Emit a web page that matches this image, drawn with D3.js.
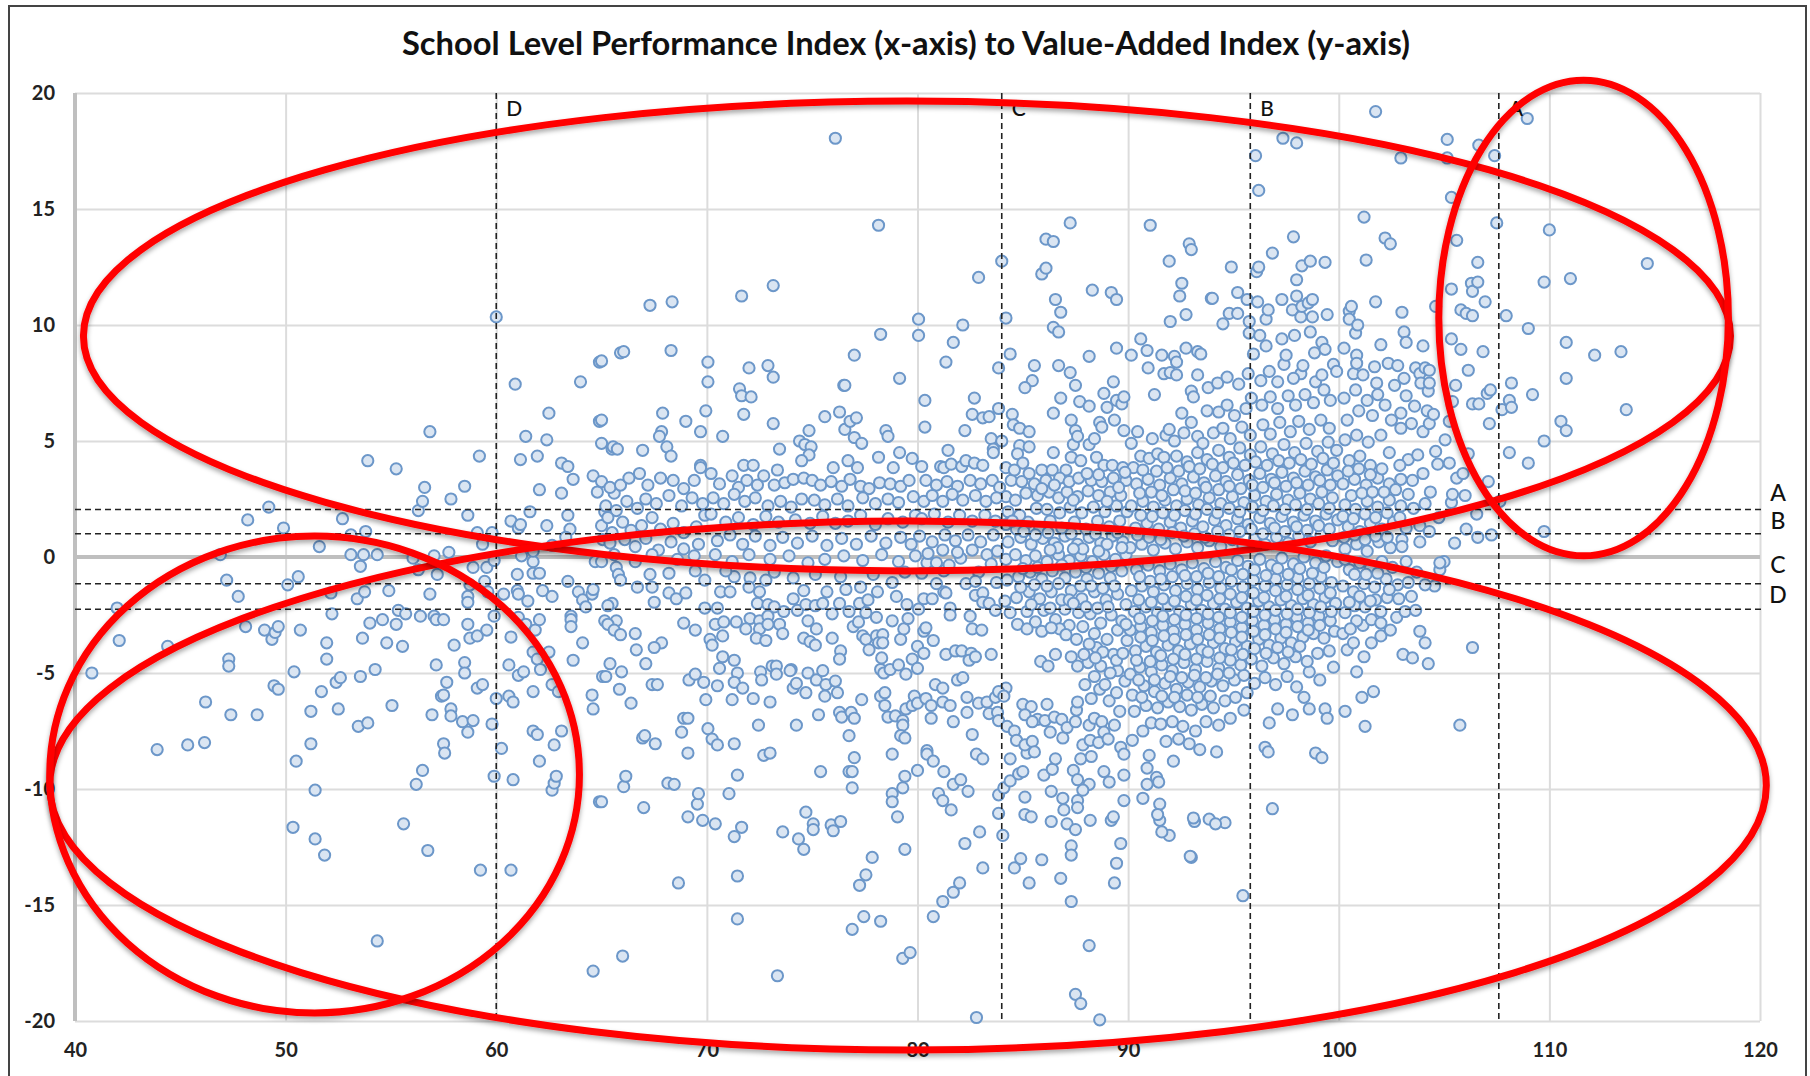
<!DOCTYPE html>
<html>
<head>
<meta charset="utf-8">
<title>School Level Performance Index</title>
<script src="https://cdn.jsdelivr.net/npm/d3@7"></script>
<style>
  body { margin: 0; background: #fff; }
  text { font-family: Lato, "Open Sans", sans-serif; }
  .tick-label text { font-size: 20px; font-weight: 700; fill: #222; font-family: Lato, sans-serif; }
  .grid line { stroke: #dcdcdc; stroke-width: 2; }
  .grid .domain { display: none; }
</style>
</head>
<body>
<div id="chart"></div>
<script>
// Axis ticks and grade cut-offs
const xTicks = [40, 50, 60, 70, 80, 90, 100, 110, 120];
const yTicks = [-20, -15, -10, -5, 0, 5, 10, 15, 20];
const gradeX = [['D', 60], ['C', 84], ['B', 95.8], ['A', 107.6]];
const gradeY = [['A', 2.05, 2.7], ['B', 1.0, 1.5], ['C', -1.15, -0.4], ['D', -2.25, -1.7]];

// Hand drawn circles: xMin, xMax, yMax, yMin in chart units
const circleTop = [40.4, 118.6, 19.65, -0.6];
const circleBottom = [38.8, 120.3, 1.55, -21.25];
const circleLeft = [38.8, 63.95, 0.9, -19.65];
const circleRight = [104.75, 118.5, 20.55, 0.05];

// Schools as [performance index, value-added index]
const schools40s = [[40.8,-5],[42,-2.2],[42.1,-3.6],[43.9,-8.3],[44.4,-3.85],[45.35,-8.1],[46.15,-8],[46.2,-6.25],[46.9,.1],[47.2,-1],[47.3,-4.4],[47.3,-4.7],[47.4,-6.8],[47.75,-1.7],[48.1,-3],[48.65,-6.8],[49,-3.15],[49.35,-3.55],[49.5,-3.25],[49.65,-3],[49.45,-5.55],[49.65,-5.7],[48.2,1.6],[49.2,2.15],[49.9,1.25]];
const schools50s = [[50.1,-1.2],[50.4,-4.95],[50.6,-.85],[50.7,-3.15],[50.5,-8.8],[50.35,-11.65],[51.2,-6.65],[51.2,-8.05],[51.4,-10.05],[51.4,-12.15],[51.7,-5.8],[51.85,-12.85],[51.6,.45],[51.95,-3.7],[51.95,-4.4],[52.15,-1.55],[52.2,-2.45],[52.4,-5.4],[52.5,-6.55],[52.6,-5.2],[52.7,1.65],[53.1,.1],[53.1,.95],[53.4,-1.8],[53.45,-7.3],[53.55,-5.15],[53.65,-3.5],[53.7,.1],[53.55,-.4],[53.75,-1.5],[53.8,1.1],[53.9,4.15],[53.9,-7.15],[54,-2.85],[54.25,-4.85],[54.35,.1],[54.35,-16.55],[54.6,-2.7],[54.8,-3.7],[54.9,-1.45],[55.05,-6.4],[55.25,-2.9],[55.25,3.8],[55.35,-2.3],[55.55,-3.85],[55.7,-2.45],[55.6,-11.5],[56.05,-.05],[56.3,-.55],[56.3,2],[56.2,-9.8],[56.4,-2.55],[56.5,-9.2],[56.5,2.4],[56.6,3],[56.75,-12.65],[56.85,-1.6],[56.85,5.4],[56.95,-6.8],[57.05,.05],[57.05,-2.55],[57.15,-2.7],[57.15,-4.65],[57.2,-.75],[57.4,-6],[57.5,-2.7],[57.5,-5.95],[57.5,-8.05],[57.55,-8.45],[57.65,-5.4],[57.75,.2],[57.85,-6.55],[57.85,-6.85],[57.85,2.5],[58,-3.8],[58.4,-7.1],[58.5,-4.55],[58.5,-5],[58.5,3.05],[58.65,-7.55],[58.65,-2.9],[58.65,-1.7],[58.65,-1.95],[58.65,1.8],[58.75,-1.2],[58.75,-3.5],[58.9,-.45],[58.9,-7.05],[59.1,-3.4],[59.1,-5.65],[59.1,1.05],[59.2,4.35],[59.35,.55],[59.35,-5.5],[59.25,-13.5],[59.45,-1.05],[59.55,-.45],[59.55,-3.15],[59.6,-1.5],[59.8,-7.2],[59.8,1.05],[59.9,-9.45],[59.9,-2.55],[59.9,-.15]];
const schools60s = [[60,-6.1],[60,10.35],[60.25,-8.25],[60.35,-1.6],[60.6,-6],[60.6,-4.65],[60.7,-3.45],[60.7,-13.5],[60.7,1.55],[60.8,-6.25],[60.8,-9.6],[60.9,7.45],[61,-.75],[61,-1.45],[61.05,-1.6],[61.05,-5.1],[61.05,-2.6],[61.05,1.25],[61.15,4.2],[61.15,1.4],[61.3,-4.95],[61.2,.05],[61.4,-2.9],[61.4,5.2],[61.5,-1.9],[61.6,1.95],[61.75,-.2],[61.75,-.7],[61.75,-4.1],[61.75,-5.8],[61.75,-7.5],[61.75,.25],[61.85,-3.15],[61.95,-4.4],[61.95,-7.65],[61.95,4.35],[62.05,-.7],[62.05,-2.7],[62.05,-8.8],[62.05,2.9],[62.1,-4.85],[62.2,-1.45],[62.4,5.05],[62.4,1.35],[62.5,6.2],[62.5,-4.1],[62.65,-1.7],[62.65,-5.5],[62.65,-10.05],[62.65,.5],[62.75,-8.1],[62.75,-9.75],[62.85,-9.45],[62.95,-5.8],[63.1,-7.5],[63.1,4.05],[63.1,2.75],[63.4,-1.05],[63.4,3.9],[63.4,1.8],[63.5,1.2],[63.3,.85],[63.55,-2.55],[63.55,-2.7],[63.55,-3],[63.65,-4.45],[63.65,3.35],[63.9,-1.5],[64,7.55],[64.1,-1.85],[64.1,-3.7],[64.25,-2.15],[64.55,-5.95],[64.55,-1.6],[64.6,-1.4],[64.6,-6.55],[64.6,-17.85],[64.6,3.5],[64.7,-.2],[64.8,2.8],[64.9,-10.55],[64.9,8.4],[64.9,5.85],[65,3.25],[65,4.9],[65,1.35],[65.05,-5.15],[65.15,1.95],[65.05,.75],[65.5,4.65],[65.6,2.75],[65.5,1.05],[65.9,8.8],[65,8.45],[65,5.9],[65,-10.55],[65.55,4.75],[65.75,4.65],[66.05,8.85],[66.05,-9.9],[66,-17.2],[66.15,-9.45],[66.95,4.6],[67,-10.8],[67.3,10.85],[67.85,5.4],[67.75,5.2],[67.9,6.2],[68.1,4.75],[68.3,4.35],[68.35,11],[68.3,8.9],[68.15,-9.75],[68.45,-9.8],[68.65,-14.05],[69.1,-11.2],[69,5.85],[69.1,-8.45],[69.55,-10.65],[69.6,-10.2],[69.8,-11.35],[69.95,6.3],[69.7,5.4],[69.7,3.95],[69.7,3.85],[65,-.2],[65.7,-.45],[65.8,-.75],[65.9,-1],[67.3,-.75],[66.7,-1.3],[67.4,-1.3],[68.2,-.7],[69.45,-.6],[69.9,-1],[68.2,-1.55],[68.55,-1.8],[69,-1.55],[67.5,-1.95],[65.5,-2],[65.3,-2.1],[65.15,-2.75],[65.7,-2.75],[65.3,-2.9],[65.6,-3.15],[65.9,-3.35],[66.6,-3.3],[67.85,-3.7],[67.5,-3.9],[66.65,-4],[67.1,-4.6],[65.4,-4.6],[65.95,-4.95],[65.2,-5.15],[67.4,-5.5],[67.65,-5.5],[65.85,-5.7],[68.9,-2.85],[69.45,-3.15],[69.9,-2.2],[67.55,-8.05],[66.95,-7.8],[67.05,-7.7],[68.8,-7.55],[66.4,-6.3],[68.9,-6.95],[69.1,-6.95],[69.95,-6.15],[69.15,-5.3],[69.85,-5.4],[69.45,-5.05],[65.4,3],[65.9,3.1],[66.3,3.4],[66.8,3.6],[67.2,3.1],[67.8,3.4],[68.4,3.3],[68.9,2.95],[69.4,3.3],[65.2,2.2],[65.7,2],[66.2,2.4],[66.7,2.1],[67.1,2.5],[67.6,2.3],[68.2,2.65],[68.8,2.2],[69.3,2.55],[69.8,2.3],[65.3,1.7],[66,1.5],[66.4,1.15],[66.9,1.35],[67.4,1.7],[67.8,1.2],[68.4,1.45],[68.9,1.05],[69.5,1.3],[65.4,.6],[66.1,.75],[66.6,.45],[67.1,.8],[67.7,.3],[68.3,.65],[68.9,.35],[69.6,.55],[69.9,1.8],[65.6,.1],[66.6,-.2],[67.4,.1],[68.6,-.1],[69.4,.05]];
const schools70s = [[70.05,8.4],[70.05,7.55],[70.75,5.2],[71.55,7.25],[71.65,6.95],[71.65,11.25],[71.75,6.15],[71.75,3.95],[72.2,3.95],[72.1,6.9],[72,8.15],[72.9,8.25],[73.15,7.75],[73.15,11.7],[73.15,5.75],[73.35,3.75],[73.45,4.65],[74.4,5],[74.65,4.85],[74.95,4.75],[74.85,4.4],[74.85,5.45],[74.5,4.15],[75.6,6.05],[76,3.85],[76.1,18.05],[76.3,6.25],[76.5,7.4],[76.55,7.4],[76.55,5.5],[76.8,5.85],[77.1,6],[76.7,4.15],[77,5.15],[77.35,4.9],[77,8.7],[77.15,3.85],[78.15,14.3],[78.25,9.6],[78.5,5.45],[78.6,5.2],[78.15,4.3],[78.85,3.85],[79.15,7.7],[79.15,4.5],[79.75,4.25],[70.15,-3.55],[70.25,-3.8],[70.75,-3.4],[70.4,-2.9],[70.8,-2.8],[71.4,-2.8],[70.5,-2.2],[70.65,-1.5],[71.1,-1.5],[71.3,-.85],[72.05,-.9],[72,-1.3],[72.5,-1.5],[72.8,-1],[74.1,-.9],[75.15,-.75],[76.35,-.85],[74.1,-1.8],[74.6,-1.45],[75.7,-1.5],[76.6,-1.4],[77.3,-1.3],[72.4,-2],[72.9,-2.05],[73.2,-2.15],[73.65,-2.35],[74.3,-2.3],[74.7,-2.05],[75.15,-2.1],[75.5,-2],[75.95,-2.45],[76.3,-2],[76.75,-2.35],[77.25,-2],[77.55,-2.4],[77.65,-1.85],[72.05,-2.65],[71.85,-3.1],[72.5,-2.75],[72.9,-2.55],[72.5,-3.1],[72.9,-2.9],[73.45,-2.9],[73.6,-3.3],[72.35,-3.5],[72.8,-3.6],[74.6,-3.5],[74.9,-3.65],[75.15,-3.8],[74.8,-2.75],[75.2,-3.1],[75.95,-3.5],[76.35,-4.05],[76.3,-4.4],[76.95,-3],[77.2,-2.8],[77.4,-3.4],[77.55,-3.55],[77.7,-4],[78.05,-3.4],[78.35,-3.35],[78.05,-2.6],[78.8,-2.75],[78.15,-3.7],[78.35,-3.7],[79.2,-3.55],[79.35,-3.1],[79.55,-2.65],[79.75,-4.4],[79.45,-5.05],[78.3,-4.35],[78.25,-4.85],[78.4,-5],[78.7,-4.85],[79.1,-4.65],[70.75,-4.3],[71.3,-4.45],[70.6,-4.8],[71.45,-5],[71.3,-5.4],[71.7,-5.65],[70.5,-5.55],[72.55,-4.95],[72.6,-5.3],[73.1,-4.7],[73.3,-4.7],[73.3,-5.05],[74,-4.85],[73.95,-4.9],[74.8,-5],[75.2,-5.3],[75.5,-4.9],[75.65,-5.5],[76.1,-5.35],[74.1,-5.65],[74.25,-5.45],[74.7,-5.85],[75.6,-6],[76.2,-5.85],[71.2,-6.15],[72.2,-6.1],[73,-6.25],[75.3,-6.8],[76.3,-6.7],[76.4,-6.9],[76.85,-6.7],[77,-6.95],[77.35,-6.15],[78.25,-6],[78.45,-5.85],[78.45,-6.4],[78.6,-6.9],[78.95,-6.85],[79.3,-7.05],[79.3,-7.25],[79.45,-6.55],[79.75,-6.4],[79.85,-6],[72.45,-7.25],[74.25,-7.25],[76.75,-7.7],[79.2,-7.7],[79.4,-7.8],[70.05,-7.4],[70.25,-7.85],[70.5,-8.1],[71.3,-8.05],[72.7,-8.55],[73,-8.45],[77,-8.65],[78.8,-8.5],[71.45,-9.4],[75.4,-9.25],[76.75,-9.25],[76.9,-9.25],[76.9,-9.95],[78.8,-10.2],[78.8,-10.55],[79.3,-9.95],[79.4,-9.45],[71.05,-10.2],[70.4,-11.5],[71.65,-11.65],[71.3,-12.05],[73.6,-11.85],[74.35,-12.15],[74.6,-12.6],[74.7,-11],[75.05,-11.5],[75.05,-11.75],[75.9,-11.55],[76,-11.8],[76.35,-11.4],[79.05,-11.2],[77.85,-12.95],[77.55,-13.7],[77.25,-14.15],[79.4,-12.6],[71.45,-13.75],[71.45,-15.6],[73.35,-18.05],[76.9,-16.05],[77.45,-15.5],[78.25,-15.7],[79.3,-17.3],[79.65,-17.05],[70.2,3.6],[70.6,3.15],[71.2,3.5],[71.5,3],[71.9,3.3],[72.4,3.1],[72.7,3.5],[73.2,3.1],[73.7,3.2],[74.1,3.35],[74.6,3.4],[75,3.3],[75.4,3.1],[75.9,3.25],[76.4,3.05],[76.8,3.35],[77.3,3.05],[77.7,2.95],[78.2,3.2],[78.7,3.15],[79.2,3.05],[79.6,3.3],[70.3,2.55],[70.8,2.3],[71.3,2.7],[71.8,2.4],[72.3,2.55],[72.9,2.2],[73.5,2.4],[74,2.15],[74.5,2.5],[75.1,2.45],[75.6,2.25],[76.2,2.5],[76.7,2.2],[77.4,2.55],[78,2.3],[78.6,2.5],[79.1,2.35],[79.8,2.6],[70.2,1.85],[70.9,1.5],[71.5,1.7],[72.2,1.4],[72.8,1.75],[73.4,1.5],[74.2,1.6],[74.9,1.45],[75.5,1.75],[76.1,1.45],[76.7,1.55],[77.3,1.8],[78,1.4],[78.6,1.65],[79.3,1.5],[79.9,1.8],[70.5,.7],[71.1,.95],[71.7,.55],[72.3,.9],[73,.5],[73.6,.85],[74.3,.6],[75,.9],[75.7,.5],[76.4,.8],[77.1,.55],[77.8,.9],[78.5,.6],[79.2,.85],[79.7,.55],[70.4,.1],[71.2,-.2],[72,.1],[73,-.1],[73.9,.05],[74.8,-.25],[75.6,-.1],[76.5,.05],[77.4,-.15],[78.3,.1],[79.1,-.2],[79.9,.05],[70.9,-.6],[73.2,-.65],[77.9,-.75],[78.8,-1.1],[79.4,-.65],[78.1,-1.5],[79,-1.7],[79.5,-2.05]];
const schools80s = [[80.05,10.25],[80.05,9.55],[80.35,6.75],[80.35,5.6],[80.2,3.9],[81.1,3.9],[81.25,3.85],[81.35,8.4],[81.45,4.6],[81.6,4],[81.7,9.25],[82.1,3.9],[82.15,10],[82.25,5.45],[82.3,4.15],[82.6,6.15],[82.7,6.85],[82.7,4.05],[82.9,12.05],[83.1,6],[83.1,3.95],[83.4,6.05],[83.5,5.1],[83.6,4.65],[83.6,4.5],[83.85,8.15],[83.85,6.4],[84,12.75],[84,5],[84.2,10.3],[84.2,3.85],[84.4,8.75],[84.5,6.15],[84.55,5.7],[84.85,5.55],[84.85,4.8],[84.75,4.45],[85,4.05],[85.3,5.4],[85.3,4.75],[85.45,7.6],[85.1,7.3],[85.55,8.25],[85.9,12.2],[85.9,3.75],[86.1,13.7],[86.1,12.45],[86.4,3.75],[86.45,13.6],[86.45,9.9],[86.45,6.2],[86.45,4.5],[86.55,11.1],[86.7,9.7],[86.7,8.25],[86.8,10.55],[86.8,6.85],[87.05,3.75],[87.25,14.4],[87.25,7.95],[87.3,5.9],[87.3,4.3],[87.4,4.85],[87.5,7.4],[87.5,5.45],[87.6,5.2],[87.75,4.15],[87.7,6.7],[88.15,8.65],[88.15,6.5],[88.15,4.85],[88.3,11.5],[88.4,5.1],[88.5,4.3],[88.65,5.8],[88.75,5.6],[88.85,7.05],[88.85,3.95],[89,6.45],[89.2,11.4],[89.3,7.55],[89.25,3.95],[89.35,5.9],[89.45,11.1],[89.45,9],[89.45,6.75],[89.7,6.6],[89.75,3.85],[89.8,6.9],[89.8,5.45],[80.3,-1.8],[80.7,-1.8],[81.25,-1.5],[81.35,-1.55],[82.3,-1.15],[80.9,-1.15],[80.2,-.7],[81.25,-.6],[80.45,-.25],[80.9,-.25],[81.5,-.35],[82.05,-.05],[81.55,-2.2],[81.55,-2.5],[82.5,-2.55],[82.75,-1.65],[83.1,-1.55],[83.1,-1.95],[83.4,-2],[83.7,-2.3],[82.6,-3.1],[83.05,-3.15],[80.05,-2.25],[80.3,-3.2],[80.4,-3.05],[80.75,-3.6],[80,-3.85],[80.3,-4.15],[80,-4.8],[81.35,-4.2],[81.8,-4.05],[82.1,-4.05],[82.55,-4.15],[82.45,-4.45],[82.75,-4.3],[83.5,-4.2],[80.85,-5.5],[81.2,-5.65],[81.9,-5.3],[82.15,-5.2],[80,-6.3],[80.4,-6.1],[80.65,-6.4],[80.65,-6.95],[81.2,-6.25],[81.55,-6.4],[81.7,-7.1],[82.35,-6.05],[82.35,-6.7],[82.9,-6.3],[83.3,-6.25],[83.4,-6.75],[83.7,-6.05],[83.8,-6.7],[83.85,-7.05],[84.2,-5.65],[83.85,-5.8],[84.1,-6],[84.25,-7.3],[84.6,-7.5],[84.7,-7.9],[85.2,-8.45],[85.1,-8.1],[85.45,-7.95],[85.55,-8.4],[82.6,-7.65],[82.8,-8.5],[83.1,-8.7],[80.45,-8.35],[80.45,-8.5],[80.75,-8.8],[84.4,-8.7],[80,-9.2],[81.25,-9.25],[81.7,-9.8],[82.05,-9.6],[82.4,-10.1],[81,-10.2],[81.2,-10.5],[81.6,-10.9],[83.85,-10.25],[84.1,-9.95],[84.4,-9.65],[84.8,-9.35],[85,-9.25],[85.1,-10.35],[85.1,-11.1],[85.4,-11.2],[86,-9.4],[86.4,-9.15],[86.55,-8.7],[86.35,-10.1],[86.35,-11.4],[86.9,-10.4],[86.95,-10.9],[87.6,-10.5],[87.6,-10.8],[87.1,-11.5],[87.5,-11.75],[88.2,-11.35],[89.2,-11.35],[89.3,-11.2],[89.8,-10.5],[87.4,-9.2],[87.6,-9.6],[88.15,-9.8],[87.85,-10.05],[88.85,-9.25],[89.1,-9.7],[89.8,-9.4],[89.65,-8.2],[89.8,-8.5],[83.85,-11.05],[84.05,-12],[82.25,-12.35],[82.95,-11.85],[83.1,-13.4],[80.75,-15.5],[81.2,-14.85],[81.7,-14.45],[82,-14.05],[82.8,-19.85],[84.6,-13.4],[84.9,-13],[85.9,-13.05],[85.3,-14.05],[86.8,-13.85],[87.3,-14.85],[87.3,-12.45],[87.3,-12.85],[88.15,-16.75],[87.5,-18.85],[87.75,-19.25],[88.65,-19.95],[89.35,-14.05],[89.45,-13.2],[89.65,-12.35],[85,-6.35],[85.4,-6.45],[85.1,-6.8],[85.7,-7],[85.45,-7.1],[86.15,-6.35],[86.3,-7.55],[86.05,-7.05],[86.5,-6.9],[86.85,-7],[86.9,-7.8],[87.1,-7.35],[87.5,-7.1],[87.55,-6.6],[87.6,-6.25],[87.85,-8.1],[88.2,-7.9],[88.15,-7.25],[87.75,-8.7],[88.25,-8.6],[88.4,-6.95],[88.75,-7.1],[88.85,-7.55],[88.6,-8],[89.05,-7.85],[89.35,-7.25],[89.6,-6.65],[89.1,-6.2],[89.45,-5.85],[88.65,-5.7],[88.25,-6.1],[87.95,-5.5],[88.4,-5.15],[88.9,-5.5],[89.85,-5.35],[89.5,-4.9],[88.1,-4.55],[87.9,-4.2],[87.55,-3.55],[87.85,-3],[88.4,-3.3],[88.5,-3.9],[89,-3.55],[89.3,-4.2],[89.5,-3.15],[89.95,-3.6],[89.7,-2.75],[89.2,-2.5],[88.7,-2.85],[88.2,-2.45],[87.65,-2.4],[87.2,-2.95],[87,-2.25],[86.55,-2.7],[86,-2.3],[85.6,-2.8],[85.2,-2.35],[84.75,-2.9],[84.4,-2.4],[84.15,-1.9],[84.7,-1.75],[85.3,-1.5],[85.8,-1.8],[86.35,-1.5],[86.85,-1.85],[87.3,-1.45],[87.8,-1.8],[88.4,-1.5],[88.95,-1.85],[89.5,-1.6],[89.9,-2.05],[84.25,-1],[84.8,-.85],[85.35,-.65],[85.9,-.95],[86.4,-.6],[87,-.9],[87.5,-.65],[88.05,-.95],[88.6,-.7],[89.15,-.9],[89.7,-.6],[84.2,-.1],[84.65,.1],[85.15,-.15],[85.6,.05],[86.15,-.2],[86.7,.1],[87.2,-.15],[87.75,.05],[88.3,-.2],[88.85,.1],[89.4,-.1],[89.9,.1],[84.3,.65],[84.9,.85],[85.4,.55],[85.95,.8],[86.5,.6],[87,.9],[87.6,.55],[88.15,.85],[88.7,.6],[89.25,.9],[89.75,.65],[84.2,1.4],[84.7,1.2],[85.25,1.5],[85.8,1.25],[86.3,1.55],[86.85,1.25],[87.45,1.5],[88,1.2],[88.55,1.55],[89.1,1.3],[89.6,1.55],[84.3,1.95],[84.85,1.8],[85.65,2.1],[86.15,2.05],[86.75,1.9],[87.25,2.15],[87.8,1.9],[88.35,2.15],[88.9,1.95],[89.45,2.2],[89.95,1.95],[84.2,2.6],[84.65,2.45],[85.15,2.75],[85.7,2.65],[86.25,2.8],[86.7,2.55],[87.1,2.8],[87.6,2.6],[88.1,2.85],[88.6,2.65],[89.15,2.8],[89.65,2.65],[84.45,3.3],[84.95,3.25],[85.55,3.15],[86.1,3.3],[86.75,3.4],[87.2,3.25],[87.65,3.4],[88.25,3.3],[88.75,3.25],[89.3,3.4],[89.9,3.3],[80.4,3.3],[80.9,3.1],[81.4,3.25],[81.9,3.05],[82.5,3.3],[83,3.15],[83.55,3.3],[83.9,3],[80.3,2.4],[80.7,2.65],[81.2,2.4],[81.65,2.7],[82.15,2.45],[82.75,2.65],[83.25,2.4],[83.75,2.55],[80.2,1.65],[80.8,1.85],[81.45,1.5],[82,1.8],[82.6,1.55],[83.2,1.8],[83.7,1.55],[80.1,.9],[80.7,.65],[81.3,.95],[81.8,.7],[82.4,.95],[83,.65],[83.6,.95],[80.5,.15],[81.2,.3],[81.9,.2],[82.6,.3],[83.3,.1],[83.8,.25],[82.9,-.65],[83.5,-.3],[83.75,-1.1],[82.75,-1.05]];
const schools90s = [[90.15,8.7],[90.15,4.9],[90.25,3.85],[90.45,5.4],[90.6,9.4],[90.6,4.35],[90.9,8.9],[90.95,8.15],[91.05,14.3],[91,4.25],[91.15,5.1],[91.25,7],[91.4,4.45],[91.6,8.7],[91.7,7.9],[91.7,4.3],[91.8,5.25],[91.95,12.75],[91.95,5.5],[92,10.15],[92,7.95],[92.2,8.65],[92.3,8.4],[92.3,7.85],[92.45,11.25],[92.55,11.8],[92.55,6.2],[92.75,10.45],[92.75,9],[92.9,13.5],[93,13.25],[93,7.15],[93.1,6.9],[93,5.8],[93.3,8.85],[93.45,8.75],[93.3,7.85],[93.75,6.3],[93.8,7.3],[93.95,11.15],[94,11.15],[94.5,10.05],[94.8,10.5],[94.9,12.5],[95.2,11.4],[95.2,10.5],[95.65,11.1],[95.75,10.15],[95.75,9.65],[95.95,8.75],[96.05,17.3],[96.1,12.3],[96.15,11],[96.2,15.8],[96.2,12.5],[96.25,9.55],[96.55,10.25],[96.55,9.1],[96.65,10.65],[96.85,13.1],[97.3,11.1],[97.3,9.4],[97.35,18.05],[97.4,8.3],[97.5,8.7],[97.8,10.65],[97.85,13.8],[97.9,9.55],[98,17.85],[98,11.95],[98,11.25],[98.2,10.35],[98.2,7.9],[98.25,12.55],[98.25,10.8],[98.3,8.25],[98.55,10.95],[98.65,12.75],[98.65,9.7],[98.75,11.1],[98.75,10.35],[98.85,8.8],[99.2,9.25],[99.35,12.7],[99.35,8.95],[99.45,10.45],[99.75,8.3],[99.9,8],[93.85,-11.3],[94.6,-11.45],[93,-12.95],[93.15,-11.4],[91.95,-12],[91.5,-11.35],[90.7,-10.4],[91.5,-10.65],[91.4,-11.1],[91.6,-11.85],[93.1,-11.25],[94.15,-11.5],[92.95,-12.9],[95.45,-14.6],[96.85,-10.85],[90.9,-9.1],[91,-8.55],[90.9,-9.8],[91.35,-9.5],[91.45,-9.7],[92.15,-8.8],[94.2,-8.4],[93.4,-8.3],[92.9,-8.05],[92.4,-7.85],[91.8,-7.95],[96.7,-7.15],[96.5,-8.2],[96.65,-8.4],[97.1,-6.55],[97.8,-6.8],[98.35,-6.05],[98.6,-6.55],[98.9,-8.45],[99.2,-8.65],[99.35,-6.55],[99.45,-6.95],[90.2,-7.9],[90.7,-7.5],[91.1,-7.15],[91.55,-7.2],[92.1,-7.1],[92.6,-7.3],[93.2,-7.5],[93.7,-7.1],[94.3,-7.25],[94.85,-6.95],[90.3,-6.65],[90.85,-6.4],[91.4,-6.5],[91.9,-6.25],[92.45,-6.45],[93,-6.6],[93.5,-6.35],[94.05,-6.5],[94.6,-6.2],[95.1,-6.05],[95.65,-5.85],[95.5,-6.6],[90.2,-5.95],[90.75,-5.55],[91.25,-5.8],[91.75,-5.45],[92.3,-5.7],[92.85,-5.4],[93.4,-5.6],[93.95,-5.35],[94.5,-5.55],[95.05,-5.3],[95.5,-5.1],[96,-5.45],[96.5,-5.2],[97,-5.5],[97.55,-5.15],[98,-5.6],[98.6,-4.95],[99.1,-5.3],[99.75,-4.75],[90.1,-5.05],[90.55,-4.75],[91.1,-4.95],[91.6,-4.65],[92.1,-4.9],[92.65,-4.55],[93.2,-4.85],[93.75,-4.5],[94.3,-4.8],[94.85,-4.45],[95.35,-4.65],[95.85,-4.4],[96.35,-4.7],[96.9,-4.35],[97.4,-4.6],[97.95,-4.3],[98.5,-4.5],[99,-4.15],[99.55,-4.05],[90.35,-4.05],[90.85,-3.85],[91.35,-4.1],[91.9,-3.8],[92.4,-4.05],[92.95,-3.75],[93.5,-4],[94.05,-3.7],[94.6,-3.95],[95.1,-3.65],[95.65,-3.85],[96.2,-3.55],[96.7,-3.8],[97.25,-3.5],[97.75,-3.7],[98.3,-3.45],[98.8,-3.3],[99.3,-3.5],[99.8,-3.2],[90.1,-3.15],[90.6,-3],[91.1,-3.25],[91.65,-2.95],[92.15,-3.2],[92.7,-2.9],[93.25,-3.15],[93.8,-2.85],[94.35,-3.1],[94.85,-2.8],[95.4,-3.05],[95.9,-2.75],[96.45,-2.95],[96.95,-2.7],[97.5,-2.9],[98,-2.6],[98.55,-2.85],[99.05,-2.55],[99.6,-2.75],[90.3,-2.35],[90.85,-2.15],[91.4,-2.4],[91.9,-2.1],[92.45,-2.35],[93,-2.05],[93.5,-2.3],[94.05,-2],[94.6,-2.25],[95.15,-1.95],[95.65,-2.2],[96.2,-1.9],[96.7,-2.15],[97.25,-1.85],[97.75,-2.1],[98.3,-1.8],[98.8,-2.05],[99.35,-1.75],[99.85,-2],[90.15,-1.45],[90.65,-1.25],[91.2,-1.5],[91.7,-1.2],[92.25,-1.45],[92.8,-1.15],[93.3,-1.4],[93.85,-1.1],[94.4,-1.35],[94.9,-1.05],[95.45,-1.3],[95.95,-1],[96.5,-1.25],[97,-.95],[97.55,-1.2],[98.05,-.9],[98.6,-1.15],[99.15,-.85],[99.65,-1.1],[90.4,-.55],[90.95,-.35],[91.5,-.6],[92,-.3],[92.55,-.55],[93.05,-.25],[93.6,-.5],[94.15,-.2],[94.65,-.45],[95.2,-.15],[95.7,-.4],[96.25,-.1],[96.8,-.35],[97.3,-.05],[97.85,-.3],[98.35,0],[98.9,-.25],[99.4,.05],[99.95,-.2],[90.1,.4],[90.65,.55],[91.2,.3],[91.75,.6],[92.25,.35],[92.8,.65],[93.3,.4],[93.85,.7],[94.4,.45],[94.95,.75],[95.45,.5],[96,.8],[96.5,.55],[97.05,.85],[97.6,.6],[98.1,.9],[98.65,.65],[99.15,.95],[99.7,.7],[90.35,1.25],[90.9,1.45],[91.45,1.2],[92,1.5],[92.5,1.25],[93.05,1.55],[93.55,1.3],[94.1,1.6],[94.65,1.35],[95.2,1.65],[95.7,1.4],[96.25,1.7],[96.75,1.45],[97.3,1.75],[97.85,1.5],[98.35,1.8],[98.9,1.55],[99.4,1.85],[99.95,1.6],[90.15,2.2],[90.7,2.4],[91.2,2.15],[91.75,2.45],[92.3,2.2],[92.8,2.5],[93.35,2.25],[93.85,2.55],[94.4,2.3],[94.95,2.6],[95.5,2.35],[96,2.65],[96.55,2.4],[97.05,2.7],[97.6,2.45],[98.15,2.75],[98.65,2.5],[99.2,2.8],[99.7,2.55],[90.4,3.15],[90.95,3.35],[91.5,3.1],[92,3.4],[92.55,3.15],[93.1,3.45],[93.6,3.2],[94.15,3.5],[94.65,3.25],[95.2,3.55],[95.75,3.3],[96.25,3.6],[96.8,3.35],[97.3,3.65],[97.85,3.4],[98.4,3.7],[98.9,3.45],[99.45,3.75],[99.95,3.5],[92.3,4.35],[92.8,4.1],[93.3,4.5],[93.75,4.2],[94.3,4.6],[94.8,4.3],[95.3,4.7],[95.8,4.4],[96.3,4.75],[96.85,4.45],[97.4,4.85],[97.9,4.5],[98.45,4.9],[99,4.55],[99.5,4.95],[99.9,4.6],[92.2,5],[92.65,5.35],[93.3,5.2],[93.55,4.9],[94.05,5.35],[94.5,5.55],[94.85,5.1],[95.4,5.6],[95.8,5.25],[96.4,5.7],[96.75,5.3],[97.2,5.8],[97.7,5.4],[98.1,5.85],[98.6,5.5],[99.15,5.9],[99.55,5.55],[94.3,6.25],[94.7,6.55],[95.05,6.1],[95.6,6.4],[95.85,6.85],[96.35,6.55],[96.75,6.9],[97.1,6.4],[97.6,6.95],[97.95,6.55],[98.4,7],[98.8,6.65],[99.3,7.2],[99.6,6.75],[94.25,7.5],[94.7,7.75],[95.25,7.45],[95.7,7.9],[96.3,7.6],[96.7,8],[97.1,7.55],[97.85,7.7],[98.9,7.55],[99.2,7.85]];
const schools100s = [[100.25,9],[100.5,10.6],[100.5,10.25],[100.6,10.8],[100.7,7.9],[100.8,9.65],[100.85,8.7],[100.85,8.35],[100.9,10],[101.15,7.85],[101.2,14.65],[101.3,12.8],[101.7,8.2],[101.75,19.2],[101.75,11],[101.8,7.5],[101.85,7],[102,9.15],[102.2,13.75],[102.35,8.35],[102.4,4.5],[102.45,13.5],[102.65,7.4],[102.8,8.25],[102.95,17.2],[102.95,6.2],[103,10.55],[103.1,9.7],[103.1,7.7],[103.2,9.25],[103.3,4.2],[103.3,2.7],[103.45,5.75],[103.6,6.5],[103.65,8.15],[103.75,4.4],[103.85,7.9],[103.85,.65],[103.9,7.5],[104,9.1],[104,5.4],[104,3.6],[104.1,8.15],[104.2,6.3],[104.25,7.15],[104.3,8.05],[104.3,7.5],[104.3,5.75],[104.35,2.8],[104.5,6.15],[104.6,10.8],[104.6,4.55],[104.7,4],[104.75,1.7],[105,-.2],[104.8,-.55],[104.55,-1.25],[105.05,5.05],[105.15,18],[105.15,17.2],[105.25,5.85],[105.25,4.05],[105.35,15.5],[105.35,11.55],[105.35,9.4],[105.35,2.35],[105.4,6.7],[105.4,2.7],[105.5,.6],[105.55,7.4],[105.6,13.65],[105.6,3.4],[105.8,10.65],[105.8,8.95],[105.9,3.6],[106,2.65],[106.05,10.5],[106.05,1.2],[106.15,8.05],[106.15,4.45],[106.3,11.8],[106.35,11.45],[106.35,10.4],[106.35,6.6],[106.55,1.85],[106.6,12.7],[106.6,11.85],[106.6,.85],[106.65,17.75],[106.65,6.6],[106.85,8.85],[106.95,11],[107.05,7.05],[107.1,3.25],[107.15,5.75],[107.2,7.2],[107.25,.95],[107.4,17.3],[107.5,14.4],[107.65,2.4],[107.75,6.35],[107.95,10.4],[108.1,6.75],[108.1,4.5],[108.2,7.5],[108.2,6.45],[108.95,18.9],[109,9.85],[109,4.05],[109.2,7],[109.75,11.85],[109.75,5],[109.75,1.1],[105.75,-7.25],[106.35,-3.9],[104.8,-.25],[101.25,-7.3],[100.3,-6.65],[101.65,-5.8],[101.1,-6.05],[100.4,-4],[100.85,-4.95],[101.2,-4.3],[101.55,-3.7],[102,-3.4],[102.45,-3.15],[103.05,-4.2],[103.5,-4.35],[103.85,-3.2],[104.1,-3.7],[104.25,-4.6],[102.75,-2.6],[103.15,-2.35],[103.65,-2.3],[100.2,-3.3],[100.7,-3.7],[101.15,-2.95],[101.55,-2.7],[102,-2.35],[100.3,-2.4],[100.75,-2.1],[101.25,-2.15],[101.75,-1.85],[102.3,-1.75],[102.85,-1.8],[103.45,-1.7],[100.2,-1.25],[100.7,-1.5],[101.2,-1.15],[101.7,-1.3],[102.25,-.95],[102.8,-1.2],[103.3,-1.1],[104.1,-1.2],[100.5,-.55],[101,-.25],[101.5,-.5],[102.05,-.2],[102.55,-.45],[103.2,-.2],[103.7,-.65],[100.3,.35],[100.85,.55],[101.35,.25],[101.9,.65],[102.45,.4],[103,.75],[103,.45],[100.45,1.3],[101,1.1],[101.5,1.45],[102.05,1.2],[102.6,1.5],[103.2,1.25],[103.85,1.35],[104.3,1.1],[100.3,2.25],[100.8,2.05],[101.35,2.4],[101.85,2.15],[102.4,2.45],[102.95,2.2],[103.55,2.1],[104.1,2.3],[100.2,3.15],[100.75,3.35],[101.3,3.1],[101.85,3.4],[102.4,3.15],[102.95,3.35],[103.5,3.3],[100.5,4.15],[101,4.35],[101.5,3.95],[102.9,3.95],[100.3,5.05],[100.85,5.25],[101.4,4.95],[102,5.25],[102.95,5.55],[100.4,5.9],[100.95,6.3],[101.6,6.1],[102.2,6.55],[102.5,5.9],[103.2,6.95],[100.25,6.85],[100.8,7.2],[101.35,6.75]];
const schools110s = [[110.8,9.25],[110.8,7.7],[110.55,5.85],[110.8,5.45],[111,12],[112.15,8.7],[113.4,8.85],[113.65,6.35],[114.65,12.65],[110,14.1]];
// Second pass over the crowded middle of the cloud
const schoolsCore = [[84.6,3.75],[85.3,3.6],[85.9,2.95],[86.5,3.1],[87.4,2.45],[88.05,3.6],[88.6,3.55],[89,2.4],[89.55,3],[89.85,3.65],[84.5,1.55],[85.05,1.1],[85.6,.95],[86.2,1.05],[86.65,.4],[87.3,1],[87.85,.35],[88.45,1],[89,.55],[89.5,1.05],[85,-.5],[85.7,-.45],[86.3,.3],[86.85,-.35],[87.4,.35],[88,-.45],[88.6,.25],[89.2,-.4],[89.7,.4],[84.9,-1.3],[85.55,-1.2],[86.15,-1.25],[86.7,-1.15],[87.2,-1.85],[87.75,-1.25],[88.25,-1.25],[88.8,-1.35],[89.35,-1.25],[85.4,-2.05],[86.3,-2.2],[86.75,-3.1],[87.4,-2],[88,-2.15],[88.55,-2.2],[89.05,-2.15],[89.9,-2.9],[85.2,-3.1],[85.9,-3.2],[86.35,-3.05],[87.05,-3.35],[88.15,-3.75],[88.8,-4.1],[89.45,-4.45],[89.75,-4.15],[85.85,-4.5],[86.2,-4.7],[86.55,-4.2],[87.3,-4.3],[87.6,-4.7],[88.7,-4.7],[89.15,-5],[88.45,-4.35],[90.55,-.85],[91.05,-1.05],[91.55,-.95],[92.1,-.85],[92.7,-.8],[93.25,-.85],[93.8,-.7],[94.3,-.85],[94.9,-.55],[95.45,-.75],[96,-.55],[96.55,-.8],[97.1,-.5],[97.6,-.75],[98.15,-.5],[98.75,-.7],[99.3,-.45],[90.45,.95],[91,.85],[91.55,.75],[92.1,1.05],[92.65,.9],[93.15,1],[93.65,.85],[94.25,1.1],[94.8,.95],[95.3,1.1],[95.85,1.2],[96.4,1],[96.95,1.25],[97.45,1.1],[98,1.3],[98.5,1.15],[99.05,1.35],[99.55,1.2],[90.6,1.8],[91.15,1.75],[91.65,1.9],[92.2,1.8],[92.7,2],[93.2,1.85],[93.75,2.05],[94.25,1.9],[94.8,2.1],[95.3,1.95],[95.9,2.15],[96.4,2],[96.9,2.2],[97.45,2.05],[97.95,2.25],[98.5,2.05],[99.05,2.3],[99.55,2.1],[90.55,2.75],[91.1,2.8],[91.6,2.65],[92.15,2.9],[92.7,2.85],[93.2,2.75],[93.7,3],[94.3,2.9],[94.8,3.05],[95.35,2.95],[95.9,3.1],[96.4,3],[96.95,3.2],[97.5,3.05],[98,3.2],[98.55,3.1],[99.1,3.3],[99.6,3.1],[90.7,3.75],[91.35,3.7],[91.85,3.85],[92.4,3.7],[92.9,3.9],[93.4,3.8],[94,4],[94.5,3.85],[95,4.05],[95.55,3.95],[96.05,4.1],[96.6,3.95],[97.15,4.15],[97.65,4.05],[98.2,4.2],[98.7,4],[99.25,4.25],[99.75,4.05],[90.5,-1.85],[91.1,-1.95],[91.65,-1.8],[92.2,-1.9],[92.75,-1.7],[93.25,-1.85],[93.75,-1.65],[94.35,-1.8],[94.85,-1.6],[95.4,-1.75],[95.95,-1.55],[96.45,-1.75],[97,-1.45],[97.5,-1.7],[98.05,-1.4],[98.55,-1.65],[99.1,-1.35],[99.6,-1.55],[90.55,-2.65],[91.15,-2.75],[91.65,-2.55],[92.2,-2.7],[92.75,-2.5],[93.25,-2.65],[93.8,-2.45],[94.3,-2.6],[94.85,-2.4],[95.4,-2.6],[95.95,-2.35],[96.5,-2.5],[97,-2.3],[97.55,-2.45],[98.05,-2.25],[98.6,-2.4],[99.15,-2.15],[99.65,-2.35],[90.6,-3.45],[91.15,-3.6],[91.7,-3.4],[92.2,-3.55],[92.75,-3.35],[93.3,-3.55],[93.85,-3.35],[94.35,-3.5],[94.9,-3.25],[95.4,-3.45],[95.95,-3.2],[96.5,-3.35],[97,-3.1],[97.5,-3.25],[98.05,-3],[98.55,-3.15],[99.1,-2.95],[90.4,-4.45],[91.05,-4.5],[91.55,-4.25],[92.15,-4.4],[92.7,-4.2],[93.25,-4.4],[93.8,-4.1],[94.35,-4.35],[94.9,-4],[95.45,-4.2],[96,-3.95],[96.55,-4.15],[97.1,-3.9],[97.6,-4.1],[98.15,-3.85],[90.5,-5.3],[91.25,-5.3],[92,-5.15],[92.55,-5.2],[93.15,-5.1],[93.7,-5.2],[94.25,-5.05],[94.8,-5],[90.65,-6.05],[91.6,-6],[92.2,-6.05],[92.8,-5.95],[93.3,-6.05],[93.9,-6],[100.25,.85],[100.75,.95],[101.25,.75],[101.75,.9],[102.3,.85],[100.2,1.75],[100.7,1.65],[101.25,1.85],[101.75,1.7],[102.3,1.9],[102.9,1.7],[100.6,2.65],[101.1,2.75],[101.6,2.8],[102.15,2.8],[102.7,2.9],[100.45,3.7],[100.95,3.8],[101.5,3.55],[102.05,3.8],[100.3,-.1],[100.75,-.75],[101.3,-.75],[101.85,-.7],[102.4,-1.4],[100.5,-1.95],[101,-1.7],[101.5,-1.9],[102,-2.85],[100.85,-2.75],[100.55,-3.1]];
const schools = [schools40s, schools50s, schools60s, schools70s, schools80s, schools90s, schools100s, schools110s, schoolsCore].flat();

const margin = { top: 93, left: 75 };
const plotWidth = 1685;
const plotHeight = 928;

const x = d3.scaleLinear().domain([40, 120]).range([0, plotWidth]);
const y = d3.scaleLinear().domain([-20, 20]).range([plotHeight, 0]);

const svg = d3.select('#chart').append('svg')
  .attr('width', 1810)
  .attr('height', 1076)
  .style('display', 'block');

const defs = svg.append('defs');

// Shadow under the red circles
const shadow = defs.append('filter')
  .attr('id', 'shadow')
  .attr('x', '-5%').attr('y', '-5%')
  .attr('width', '110%').attr('height', '110%');
shadow.append('feDropShadow')
  .attr('dx', 0).attr('dy', 3)
  .attr('stdDeviation', 2.5)
  .attr('flood-color', '#000')
  .attr('flood-opacity', 0.35);

// The source is a resized screenshot, so the points are a little soft
defs.append('filter')
  .attr('id', 'soft')
  .append('feGaussianBlur')
  .attr('stdDeviation', 0.5);

// Outer frame, open at the bottom
svg.append('path')
  .attr('d', 'M9,1076V6H1806V1076')
  .attr('fill', 'none')
  .attr('stroke', '#444')
  .attr('stroke-width', 2);

svg.append('text')
  .attr('x', 906)
  .attr('y', 55)
  .attr('text-anchor', 'middle')
  .attr('font-size', 32.7)
  .attr('font-weight', 700)
  .attr('fill', '#111')
  .text('School Level Performance Index (x-axis) to Value-Added Index (y-axis)');

const plot = svg.append('g').attr('transform', `translate(${margin.left},${margin.top})`);

// Grid lines come from the axis ticks, labels keep a plain hyphen
const xAxis = d3.axisBottom(x).tickValues(xTicks).tickSize(-plotHeight).tickPadding(22).tickFormat(String);
const yAxis = d3.axisLeft(y).tickValues(yTicks).tickSize(-plotWidth).tickPadding(20).tickFormat(String);

plot.append('g')
  .attr('class', 'grid tick-label')
  .attr('transform', `translate(0,${plotHeight})`)
  .call(xAxis);

plot.append('g')
  .attr('class', 'grid tick-label')
  .call(yAxis);

// Heavier axis lines at x = 40 and y = 0
plot.append('line')
  .attr('x1', x(40)).attr('x2', x(40))
  .attr('y1', y(20)).attr('y2', y(-20))
  .attr('stroke', '#bfbfbf').attr('stroke-width', 4);

plot.append('line')
  .attr('x1', x(40)).attr('x2', x(120))
  .attr('y1', y(0)).attr('y2', y(0))
  .attr('stroke', '#bfbfbf').attr('stroke-width', 4);

// Points
plot.append('g')
  .attr('filter', 'url(#soft)')
  .selectAll('circle')
  .data(schools)
  .join('circle')
  .attr('cx', d => x(d[0]))
  .attr('cy', d => y(d[1]))
  .attr('r', 5.6)
  .attr('fill', '#dae5f2')
  .attr('stroke', '#6c97c9')
  .attr('stroke-width', 2);

// Grade cut-off lines
plot.append('g')
  .selectAll('line')
  .data(gradeX)
  .join('line')
  .attr('x1', d => x(d[1])).attr('x2', d => x(d[1]))
  .attr('y1', y(20)).attr('y2', y(-20))
  .attr('stroke', '#222')
  .attr('stroke-width', 1.6)
  .attr('stroke-dasharray', '6 4');

plot.append('g')
  .selectAll('line')
  .data(gradeY)
  .join('line')
  .attr('x1', x(40)).attr('x2', x(120.2))
  .attr('y1', d => y(d[1])).attr('y2', d => y(d[1]))
  .attr('stroke', '#222')
  .attr('stroke-width', 1.6)
  .attr('stroke-dasharray', '6 4');

plot.append('g')
  .selectAll('text')
  .data(gradeX)
  .join('text')
  .attr('x', d => x(d[1]) + 10)
  .attr('y', y(19.3) + 7)
  .attr('font-size', 21)
  .attr('font-weight', 500)
  .attr('fill', '#111')
  .text(d => d[0]);

plot.append('g')
  .selectAll('text')
  .data(gradeY)
  .join('text')
  .attr('x', x(120) + 18)
  .attr('y', d => y(d[2]) + 7)
  .attr('text-anchor', 'middle')
  .attr('font-size', 23)
  .attr('font-weight', 500)
  .attr('fill', '#111')
  .text(d => d[0]);

// Red circles drawn over the chart
plot.append('g')
  .selectAll('ellipse')
  .data([circleTop, circleBottom, circleLeft, circleRight])
  .join('ellipse')
  .attr('cx', d => (x(d[0]) + x(d[1])) / 2)
  .attr('cy', d => (y(d[2]) + y(d[3])) / 2)
  .attr('rx', d => (x(d[1]) - x(d[0])) / 2)
  .attr('ry', d => (y(d[3]) - y(d[2])) / 2)
  .attr('fill', 'none')
  .attr('stroke', '#ff0000')
  .attr('stroke-width', 7)
  .attr('filter', 'url(#shadow)');
</script>
</body>
</html>
